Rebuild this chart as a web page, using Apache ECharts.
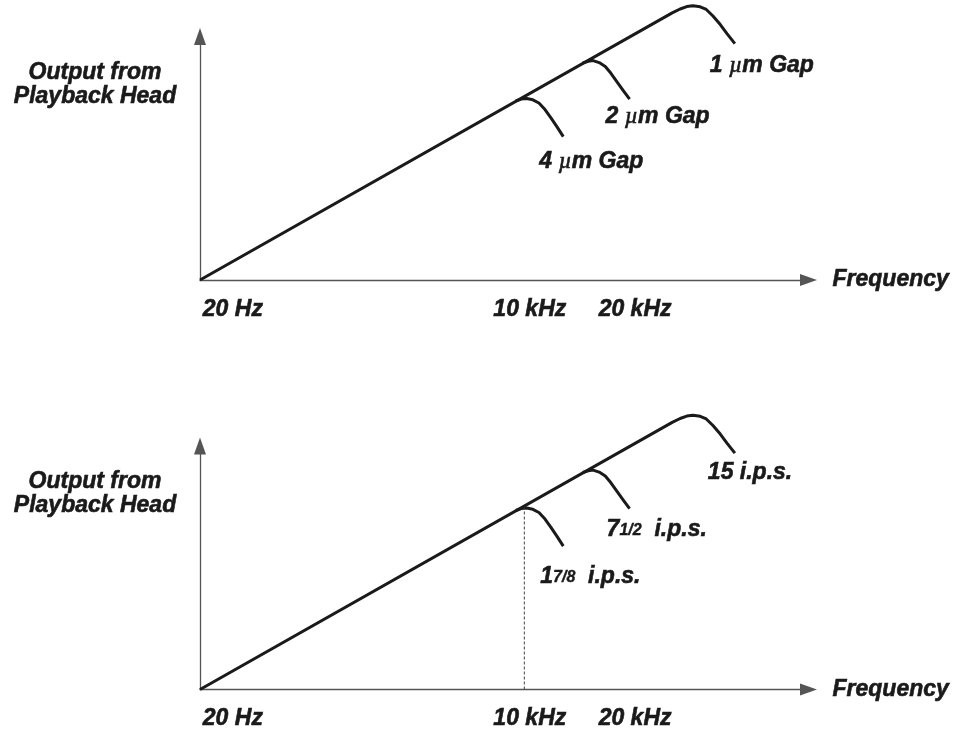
<!DOCTYPE html>
<html>
<head>
<meta charset="utf-8">
<script src="https://cdn.jsdelivr.net/npm/echarts@6/dist/echarts.min.js"></script>
<style>
  html, body { margin: 0; padding: 0; background: #fff; }
  #chart { width: 959px; height: 736px; }
</style>
</head>
<body>
<div id="chart"></div>
<script>
// arbitrary units: x 0..100 along the frequency axis, y 0..100 up the output axis
// main 6 dB/oct slope, rolling off at the highest frequency (1 um gap / 15 ips)
var mainX = [0, 77.6, 78.9, 80.0, 81.0, 82.2, 83.2, 84.3, 85.5, 86.6, 87.9];
var mainY = [0, 109.7, 111.3, 112.3, 112.6, 112.2, 111.1, 108.4, 104.9, 101.2, 97.1];
// middle roll-off (2 um gap / 7 1/2 ips)
var midX = [62.9, 63.8, 64.6, 65.6, 66.6, 67.5, 68.5, 69.5, 70.6];
var midY = [89.1, 89.8, 90.1, 89.3, 87.7, 85.0, 81.5, 78.0, 74.3];
// lowest roll-off (4 um gap / 1 7/8 ips)
var lowX = [51.9, 52.8, 53.7, 54.7, 55.7, 56.7, 57.7, 58.7, 59.7];
var lowY = [73.5, 74.3, 74.5, 74.0, 72.7, 70.0, 66.5, 62.8, 58.9];
// 10 kHz marker on the lower panel
var markX = [53.3, 53.3];
var markY = [0, 74.5];

var tickValues = [5.4, 54.2, 71.5];
var tickLabels = ['20 Hz', '10 kHz', '20 kHz'];
var gapLabels = ['1 {mu|µ}m Gap', '2 {mu|µ}m Gap', '4 {mu|µ}m Gap'];
var speedLabels = ['15 i.p.s.', '7{fr|1/2}  i.p.s.', '1{fr|7/8}  i.p.s.'];

var FONT = 'Liberation Sans, Arial, sans-serif';
var INK = '#1a1a1a';

function zip(xs, ys) {
    return xs.map(function (x, i) { return [x, ys[i]]; });
}

var textBase = {
    fontFamily: FONT,
    fontWeight: 'bold',
    fontStyle: 'italic',
    fontSize: 23,
    color: INK,
    textBorderColor: INK,
    textBorderWidth: 0.6
};

var rich = {
    mu: { fontFamily: 'Liberation Serif', fontStyle: 'italic', fontWeight: 'normal', fontSize: 23, color: INK },
    fr: { fontFamily: FONT, fontStyle: 'italic', fontWeight: 'bold', fontSize: 16, color: INK,
          textBorderColor: INK, textBorderWidth: 0.4, verticalAlign: 'bottom', padding: [0, 0, 3, 0] }
};

function curve(gridIdx, xs, ys, text, offset) {
    return {
        type: 'line',
        xAxisIndex: gridIdx,
        yAxisIndex: gridIdx,
        data: zip(xs, ys),
        showSymbol: false,
        clip: false,
        silent: true,
        lineStyle: { color: INK, width: 3, join: 'round', cap: 'butt' },
        endLabel: Object.assign({
            show: true,
            offset: offset,
            formatter: function () { return text; },
            rich: rich
        }, textBase)
    };
}

function xAxis(gridIdx) {
    return {
        type: 'value',
        gridIndex: gridIdx,
        min: 0,
        max: 100,
        name: 'Frequency',
        nameLocation: 'end',
        nameGap: 24,
        nameTextStyle: Object.assign({ align: 'left', verticalAlign: 'middle' }, textBase),
        axisLine: {
            lineStyle: { color: '#555', width: 1.3 },
            symbol: ['none', 'triangle'],
            symbolSize: [12, 17]
        },
        axisTick: { show: false },
        splitLine: { show: false },
        axisLabel: Object.assign({
            customValues: tickValues,
            margin: 18,
            formatter: function (v) { return tickLabels[tickValues.indexOf(v)]; }
        }, textBase)
    };
}

function yAxis(gridIdx) {
    return {
        type: 'value',
        gridIndex: gridIdx,
        min: 0,
        max: 100,
        name: 'Output from\nPlayback Head',
        nameLocation: 'end',
        nameGap: -48,
        nameTextStyle: Object.assign({
            align: 'center',
            verticalAlign: 'middle',
            lineHeight: 24,
            padding: [0, 210, 0, 0]
        }, textBase),
        axisLine: {
            lineStyle: { color: '#555', width: 1.3 },
            symbol: ['none', 'triangle'],
            symbolSize: [12, 17]
        },
        axisTick: { show: false },
        splitLine: { show: false },
        axisLabel: { show: false }
    };
}

var chart = echarts.init(document.getElementById('chart'), null, { renderer: 'canvas' });

chart.setOption({
    animation: false,
    backgroundColor: '#fff',
    grid: [
        { left: 200, top: 36.5, width: 608.5, height: 243.5 },
        { left: 200, top: 446, width: 608.5, height: 243.5 }
    ],
    xAxis: [xAxis(0), xAxis(1)],
    yAxis: [yAxis(0), yAxis(1)],
    series: [
        curve(0, mainX, mainY, gapLabels[0], [-33, 22]),
        curve(0, midX, midY, gapLabels[1], [-32, 17.5]),
        curve(0, lowX, lowY, gapLabels[2], [-32, 25]),
        curve(1, mainX, mainY, speedLabels[0], [-35, 20]),
        curve(1, midX, midY, speedLabels[1], [-31, 21.5]),
        curve(1, lowX, lowY, speedLabels[2], [-31, 31]),
        {
            type: 'line',
            xAxisIndex: 1,
            yAxisIndex: 1,
            data: zip(markX, markY),
            showSymbol: false,
            silent: true,
            lineStyle: { color: '#444', width: 1, type: [3, 2] }
        }
    ]
});
</script>
</body>
</html>
